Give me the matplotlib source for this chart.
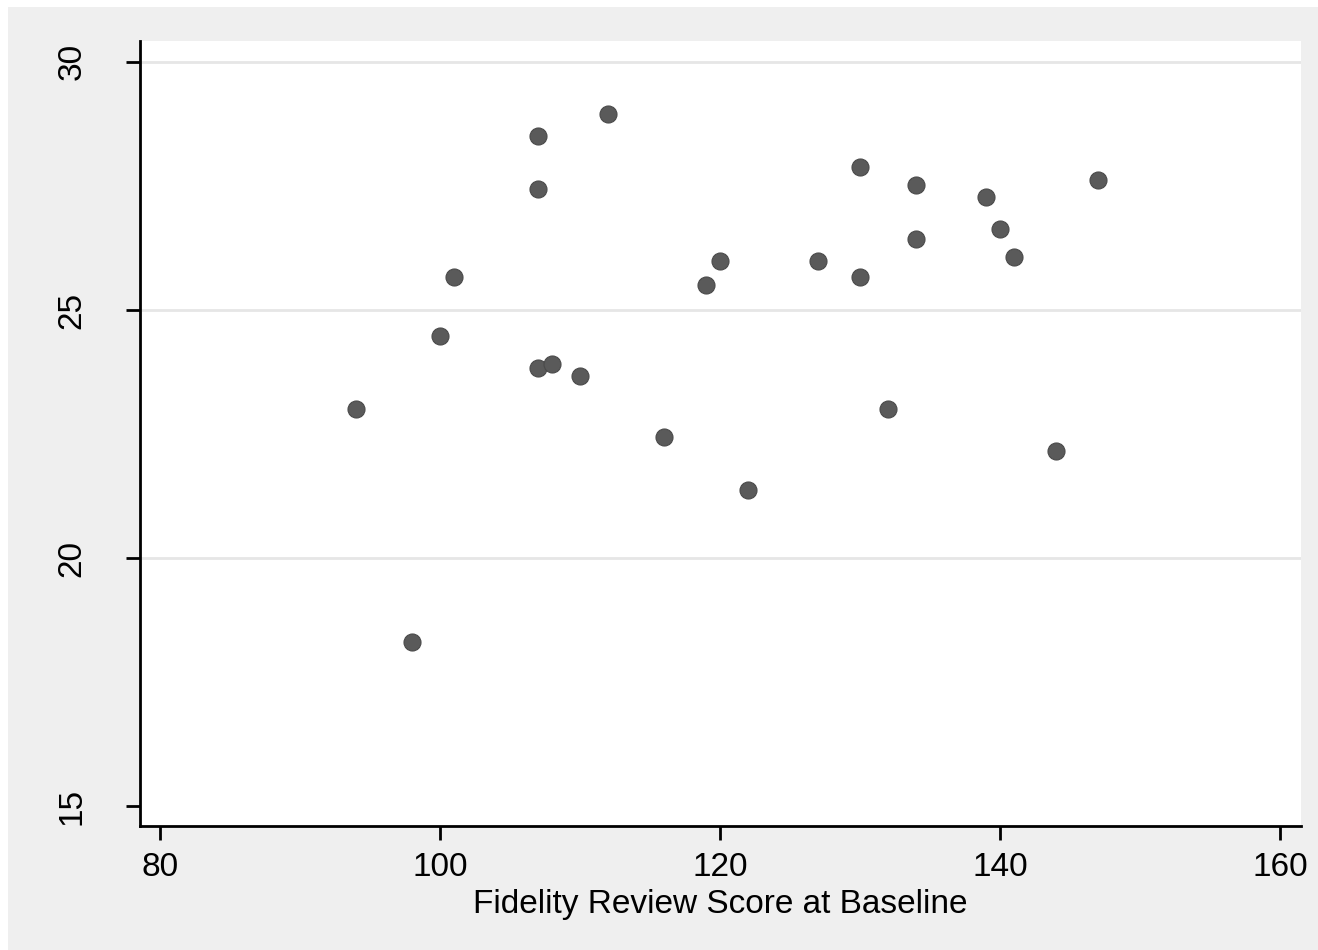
import matplotlib.pyplot as plt
from matplotlib.patches import Rectangle

# fidelity review score at baseline vs outcome
fidelity = [94, 98, 100, 101, 107, 107, 107, 108, 110, 112, 116, 119, 120,
            122, 127, 130, 130, 132, 134, 134, 139, 140, 141, 144, 147]
outcome = [23.0, 18.3, 24.47, 25.66, 28.51, 27.44, 23.82, 23.92, 23.66, 28.95,
           22.43, 25.5, 25.98, 21.38, 25.98, 27.88, 25.66, 23.01, 27.52, 26.43,
           27.27, 26.63, 26.06, 22.15, 27.62]
xticks = [80, 100, 120, 140, 160]
yticks = [15, 20, 25, 30]

plt.rcParams['font.family'] = ['Liberation Sans', 'DejaVu Sans']

fig = plt.figure(figsize=(13.18, 9.5), dpi=100)
fig.patch.set_facecolor('white')
# grey outer region like Stata's graph background
fig.patches.append(Rectangle((8 / 1318, 0), 1 - 8 / 1318, 1 - 7 / 950,
                             transform=fig.transFigure, facecolor='#efefef',
                             edgecolor='none', zorder=-10))

ax = fig.add_axes([140 / 1318, 1 - 826 / 950, (1301 - 140) / 1318, (826 - 41) / 950])
ax.set_facecolor('white')

ax.scatter(fidelity, outcome, s=150, color='#5a5a5a', edgecolors='#4a4a4a',
           linewidths=0.8, zorder=3)

ax.set_xlim(78.57, 161.5)
ax.set_ylim(14.6, 30.42)
ax.set_xticks(xticks)
ax.set_yticks(yticks)
for y in [20, 25, 30]:
    ax.axhline(y, color='#e6e6e6', lw=2, zorder=1)

for side in ['top', 'right']:
    ax.spines[side].set_visible(False)
for side in ['left', 'bottom']:
    ax.spines[side].set_linewidth(2)

ax.tick_params(axis='x', length=10, width=2, labelsize=24, pad=9)
ax.tick_params(axis='y', length=10, width=2, labelsize=24, pad=28)
for lab in ax.get_yticklabels():
    lab.set_rotation(90)
    lab.set_va('center')

ax.set_xlabel('Fidelity Review Score at Baseline', fontsize=24, labelpad=4)

fig.savefig('out.png', dpi=100)
